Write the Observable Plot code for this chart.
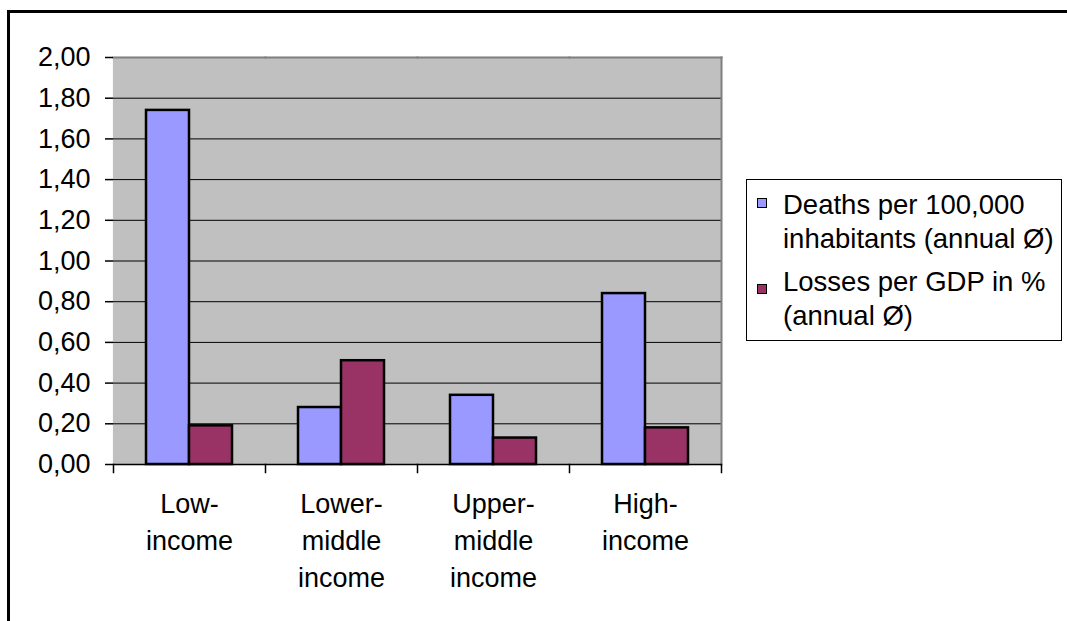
<!DOCTYPE html>
<html><head><meta charset="utf-8">
<script src="https://cdn.jsdelivr.net/npm/d3@7"></script>
<script src="https://cdn.jsdelivr.net/npm/@observablehq/plot@0.6"></script>
<style>
body{margin:0;background:#fff;}
#wrap{position:relative;width:1067px;height:621px;overflow:hidden;font-family:"Liberation Sans",Arial,sans-serif;color:#000;}
#border{position:absolute;left:7px;top:10px;width:2000px;height:2000px;border-left:3px solid #000;border-top:3px solid #000;}
#chart{position:absolute;left:0;top:0;}
#legend{position:absolute;left:746px;top:179px;width:316px;height:162px;border:1px solid #000;box-sizing:border-box;background:#fff;}
.item{position:absolute;left:36px;font-size:27.5px;line-height:34px;white-space:nowrap;}
.sw{position:absolute;left:10px;width:8px;height:8px;border:1px solid #000;}
</style></head>
<body><div id="wrap"><div id="border"></div><div id="chart"></div><div id="legend"></div></div>
<script>
const categories = ["Low-income", "Lower-middle income", "Upper-middle income", "High-income"];
const categoryLabels = ["Low-\nincome", "Lower-\nmiddle\nincome", "Upper-\nmiddle\nincome", "High-\nincome"];
const seriesKeys = ["deaths", "losses"];
const seriesNames = ["Deaths per 100,000\ninhabitants (annual Ø)", "Losses per GDP in %\n(annual Ø)"];
const seriesColors = ["#9999FF", "#993366"];
const deaths = [1.74, 0.28, 0.34, 0.84];
const losses = [0.19, 0.51, 0.13, 0.18];
const yTicks = [0, 0.2, 0.4, 0.6, 0.8, 1.0, 1.2, 1.4, 1.6, 1.8, 2.0];
const gridTicks = [0.2, 0.4, 0.6, 0.8, 1.0, 1.2, 1.4, 1.6, 1.8];

const rows = [];
categories.forEach((c, i) => {
  rows.push({cat: c, series: "deaths", value: deaths[i]});
  rows.push({cat: c, series: "losses", value: losses[i]});
});

const W = 1067, H = 621, mL = 111, mR = 345, mT = 57, mB = 157;
const frameH = H - mT - mB;
const fmt = d => d.toFixed(2).replace(".", ",");
const font = '"Liberation Sans", Arial, sans-serif';

const chart = Plot.plot({
  width: W, height: H,
  marginLeft: mL, marginRight: mR, marginTop: mT, marginBottom: mB,
  style: {fontFamily: font, color: "#000", background: "transparent", overflow: "visible"},
  fx: {domain: categories, padding: 0, label: null},
  x: {domain: seriesKeys, paddingInner: 0, paddingOuter: 0.735, axis: null},
  y: {domain: [0, 2], axis: null},
  color: {domain: seriesKeys, range: seriesColors},
  marks: [
    Plot.frame({fill: "#C0C0C0", stroke: "#C0C0C0", strokeWidth: 1.2}),
    Plot.ruleY(gridTicks, {stroke: "#000", strokeWidth: 1}),
    Plot.barY(rows, {fx: "cat", x: "series", y: "value", fill: "series", stroke: "#000", strokeWidth: 2.5}),
    Plot.frame({anchor: "top", stroke: "#808080", strokeWidth: 2}),
    Plot.frame({anchor: "right", stroke: "#808080", strokeWidth: 2, fx: () => categories[3]}),
    Plot.ruleY([0], {stroke: "#000", strokeWidth: 1.5}),
    Plot.frame({anchor: "left", stroke: "#000", strokeWidth: 1.5, insetTop: frameH, insetBottom: -8}),
    Plot.frame({anchor: "right", stroke: "#000", strokeWidth: 1.5, insetTop: frameH, insetBottom: -8, fx: () => categories[3]}),
    Plot.axisY({ticks: yTicks, tickFormat: fmt, tickSize: 8, tickPadding: 15, fontSize: 27, line: true, stroke: "#000", strokeWidth: 1.5, label: null}),
    Plot.axisFx({anchor: "bottom", tickSize: 0, tickPadding: 22, fontSize: 27, lineHeight: 1.38,
      tickFormat: d => categoryLabels[categories.indexOf(d)], label: null})
  ]
});
document.getElementById("chart").appendChild(chart);

const legend = document.getElementById("legend");
const itemTops = [8, 85];
const swTops = [18, 104];
seriesKeys.forEach((k, i) => {
  const sw = document.createElement("div");
  sw.className = "sw";
  sw.style.top = swTops[i] + "px";
  sw.style.background = seriesColors[i];
  legend.appendChild(sw);
  const it = document.createElement("div");
  it.className = "item";
  it.style.top = itemTops[i] + "px";
  it.innerHTML = seriesNames[i].split("\n").join("<br>");
  legend.appendChild(it);
});
</script>
</body></html>
